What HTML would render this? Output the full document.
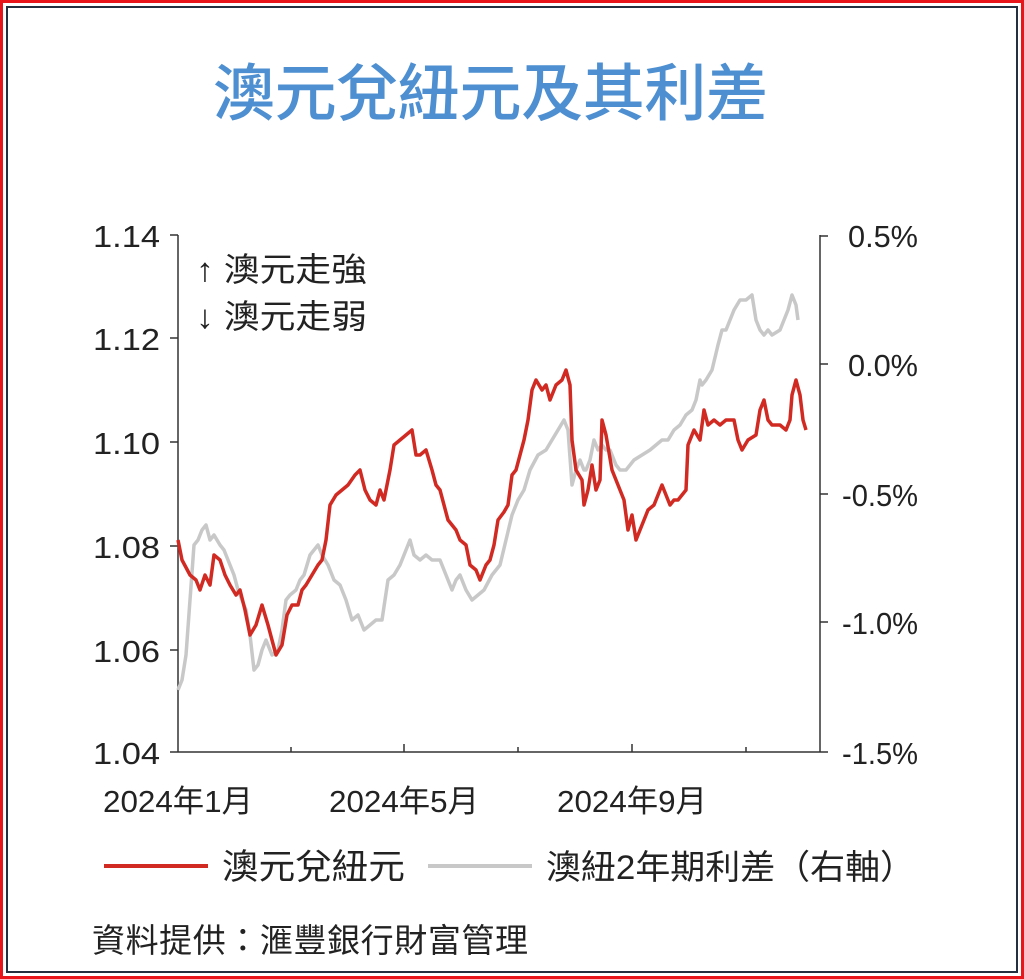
<!DOCTYPE html>
<html><head><meta charset="utf-8"><style>
html,body{margin:0;padding:0;background:#fff}
body{width:1024px;height:979px;position:relative;overflow:hidden;font-family:"Liberation Sans","Noto Sans CJK TC",sans-serif}
.b1{position:absolute;left:0;top:0;width:1018px;height:973px;border:3px solid #e8161b}
.b2{position:absolute;left:6px;top:6px;width:1008px;height:963px;border:2px solid #243040}
</style></head><body>
<div class="b1"></div><div class="b2"></div>
<svg width="1024" height="979" style="position:absolute;left:0;top:0" font-family="Liberation Sans, Noto Sans CJK TC, sans-serif">
<text x="213" y="115" font-size="62" fill="#4d8fd1" font-weight="500" textLength="555" lengthAdjust="spacing">澳元兌紐元及其利差</text>
<g stroke="#333" stroke-width="1.5" fill="none">
<line x1="178" y1="235" x2="178" y2="752"/>
<line x1="820" y1="235" x2="820" y2="752"/>
<line x1="178" y1="752" x2="820" y2="752"/>
<line x1="170" y1="235" x2="178" y2="235"/><line x1="170" y1="338" x2="178" y2="338"/><line x1="170" y1="442" x2="178" y2="442"/><line x1="170" y1="546" x2="178" y2="546"/><line x1="170" y1="650" x2="178" y2="650"/><line x1="170" y1="752" x2="178" y2="752"/>
<line x1="820" y1="236" x2="828" y2="236"/><line x1="820" y1="364" x2="828" y2="364"/><line x1="820" y1="494" x2="828" y2="494"/><line x1="820" y1="622" x2="828" y2="622"/><line x1="820" y1="752" x2="828" y2="752"/>
<line x1="404" y1="744" x2="404" y2="752"/><line x1="632" y1="744" x2="632" y2="752"/>
<line x1="291" y1="747" x2="291" y2="752"/><line x1="518" y1="747" x2="518" y2="752"/><line x1="746" y1="747" x2="746" y2="752"/>
</g>
<g font-size="31" fill="#222" lengthAdjust="spacingAndGlyphs">
<text x="93" y="247" textLength="67" lengthAdjust="spacingAndGlyphs">1.14</text><text x="93" y="350" textLength="67" lengthAdjust="spacingAndGlyphs">1.12</text><text x="93" y="454" textLength="67" lengthAdjust="spacingAndGlyphs">1.10</text><text x="93" y="558" textLength="67" lengthAdjust="spacingAndGlyphs">1.08</text><text x="93" y="662" textLength="67" lengthAdjust="spacingAndGlyphs">1.06</text><text x="93" y="764" textLength="67" lengthAdjust="spacingAndGlyphs">1.04</text>
<text x="848" y="247" textLength="70" lengthAdjust="spacingAndGlyphs">0.5%</text><text x="848" y="376" textLength="70" lengthAdjust="spacingAndGlyphs">0.0%</text><text x="842" y="506" textLength="76" lengthAdjust="spacingAndGlyphs">-0.5%</text><text x="842" y="634" textLength="76" lengthAdjust="spacingAndGlyphs">-1.0%</text><text x="842" y="764" textLength="76" lengthAdjust="spacingAndGlyphs">-1.5%</text>
<text x="103" y="812" textLength="150" lengthAdjust="spacingAndGlyphs">2024年1月</text><text x="329" y="812" textLength="150" lengthAdjust="spacingAndGlyphs">2024年5月</text><text x="557" y="812" textLength="150" lengthAdjust="spacingAndGlyphs">2024年9月</text>
</g>
<text x="196" y="281" font-size="33" fill="#222" textLength="171" lengthAdjust="spacingAndGlyphs">↑ 澳元走強</text>
<text x="196" y="328" font-size="33" fill="#222" textLength="171" lengthAdjust="spacingAndGlyphs">↓ 澳元走弱</text>
<polyline fill="none" stroke="#c8c8c8" stroke-width="3.5" stroke-linejoin="round" points="178,690 182,680 186,655 190,600 194,545 198,540 202,530 206,525 210,540 214,535 220,545 224,550 230,565 234,575 238,590 242,600 246,610 250,635 254,670 258,665 262,650 266,640 272,655 278,650 282,630 286,600 290,595 296,590 300,580 304,575 310,555 318,545 322,555 328,565 334,580 340,585 346,600 352,620 358,615 364,630 370,625 376,620 382,620 388,580 394,575 400,565 406,550 410,540 414,555 420,560 426,555 432,560 440,560 446,575 452,590 456,580 460,575 466,590 472,600 478,595 484,590 492,575 500,565 506,540 512,515 518,500 524,490 530,470 538,455 546,450 552,440 558,430 564,420 568,430 572,485 576,470 580,460 584,470 586,470 590,460 594,440 598,450 602,445 606,450 610,450 616,465 620,470 626,470 634,460 642,455 650,450 656,445 662,440 668,440 674,430 680,425 686,415 692,410 696,400 700,380 702,385 706,380 712,370 718,345 722,330 726,330 730,320 734,310 740,300 746,300 752,295 756,320 760,330 764,335 768,330 772,335 780,330 784,320 788,310 792,295 796,305 798,320"/>
<polyline fill="none" stroke="#d02a22" stroke-width="3.5" stroke-linejoin="round" points="178,540 182,560 190,575 196,580 200,590 205,575 210,585 214,555 220,560 225,575 230,585 236,595 240,590 245,610 250,635 256,625 262,605 268,625 272,640 276,655 282,645 287,615 292,605 298,605 302,590 306,585 312,575 318,565 322,560 326,540 330,505 336,495 342,490 348,485 355,475 360,470 365,490 370,500 376,505 380,490 384,500 390,470 394,445 400,440 406,435 412,430 416,455 420,455 426,450 432,470 436,485 440,490 444,505 448,520 452,525 456,530 460,540 466,545 470,565 476,570 480,580 486,565 490,560 494,545 498,520 504,512 508,505 512,475 516,470 520,455 524,440 528,420 532,390 536,380 542,390 546,385 550,400 556,385 562,380 566,370 570,385 572,440 576,470 582,480 584,505 588,490 592,465 596,490 600,480 602,420 606,435 612,470 616,480 620,490 624,500 628,530 632,515 636,540 642,525 648,510 654,505 658,495 662,485 666,495 670,505 674,500 678,500 682,495 686,490 688,445 694,430 700,440 704,410 708,425 714,420 720,425 726,420 734,420 738,440 742,450 748,440 756,435 760,410 764,400 768,420 772,425 780,425 786,430 790,420 792,395 796,380 800,395 803,420 806,430"/>
<line x1="104" y1="866" x2="208" y2="866" stroke="#d02a22" stroke-width="4"/>
<text x="222" y="879" font-size="35" fill="#222" textLength="183" lengthAdjust="spacingAndGlyphs">澳元兌紐元</text>
<line x1="428" y1="866" x2="532" y2="866" stroke="#c8c8c8" stroke-width="4"/>
<text x="546" y="879" font-size="34" fill="#222" textLength="369" lengthAdjust="spacingAndGlyphs">澳紐2年期利差（右軸）</text>
<text x="92" y="952" font-size="33" fill="#222" textLength="436">資料提供：滙豐銀行財富管理</text>
</svg>
</body></html>
